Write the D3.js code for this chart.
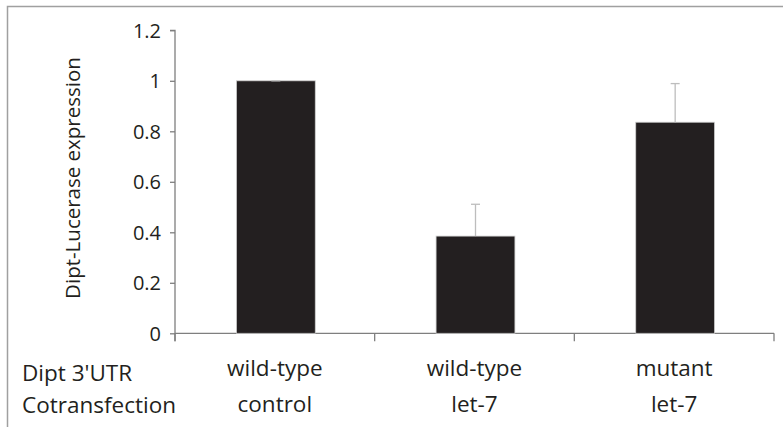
<!DOCTYPE html>
<html><head><meta charset="utf-8">
<script src="https://cdn.jsdelivr.net/npm/d3@7"></script>
<style>body{margin:0;background:#fff}svg{display:block}text{font-family:"Open Sans",Lato,sans-serif;fill:#231f20}</style>
</head><body><svg id="c" width="783" height="427"></svg>
<script>
const categories = ["wt-control","wt-let7","mut-let7"];
const utrLabels = ["wild-type","wild-type","mutant"];
const cotransLabels = ["control","let-7","let-7"];
const values = [1.0, 0.385, 0.836];
const errors = [0.0, 0.126, 0.153];
const yTicks = [0,0.2,0.4,0.6,0.8,1,1.2];
const yTickLabels = ["0","0.2","0.4","0.6","0.8","1","1.2"];

const svg = d3.select("#c");
const L = 175, R = 774, T = 30.3, B = 333.3;
const x = d3.scaleBand().domain(categories).range([L,R]).padding(0);
const y = d3.scaleLinear().domain([0,1.2]).range([B,T]);
const axisColor = "#7f7f7f";
const FONT = "'Open Sans', Lato, sans-serif";

// frame
svg.append("path").attr("d",`M7.5,427 V6.5 H783`).attr("fill","none").attr("stroke","#a0a0a0").attr("stroke-width",1.5);

// y axis
const ya = svg.append("g").attr("transform",`translate(${L},0)`)
  .call(d3.axisLeft(y).tickValues(yTicks).tickFormat((d,i)=>yTickLabels[i]).tickSize(5).tickPadding(9));
ya.select(".domain").attr("stroke",axisColor).attr("stroke-width",1.3).attr("d",`M-5,${T}H0V${B+8}`);
ya.selectAll(".tick line").attr("stroke",axisColor).attr("stroke-width",1.3);
ya.selectAll(".tick text").style("font-size","20px").style("font-family",FONT).attr("fill","#231f20").attr("dy","0.35em");

// x axis
const xa = svg.append("g").attr("transform",`translate(0,${B})`);
xa.append("line").attr("x1",L).attr("x2",R).attr("y1",0).attr("y2",0).attr("stroke",axisColor).attr("stroke-width",1.3);
const bounds = [L].concat(categories.map(c=>x(c)+x.bandwidth()));
xa.selectAll(".xt").data(bounds).join("line").attr("class","xt")
  .attr("x1",d=>d).attr("x2",d=>d).attr("y1",0).attr("y2",8).attr("stroke",axisColor).attr("stroke-width",1.3);

// bars
const bw = x.bandwidth()*0.395;
svg.selectAll(".bar").data(categories).join("rect").attr("class","bar")
  .attr("x",(d)=>x(d)+x.bandwidth()/2-bw/2+1)
  .attr("width",bw)
  .attr("y",(d,i)=>y(values[i]))
  .attr("height",(d,i)=>B-y(values[i]))
  .attr("fill","#231f20").attr("stroke","#d0d0d0").attr("stroke-width",0.8);

// error bars (upper only)
const eg = svg.selectAll(".err").data(categories).join("g").attr("class","err");
eg.append("line")
  .attr("x1",d=>x(d)+x.bandwidth()/2+1).attr("x2",d=>x(d)+x.bandwidth()/2+1)
  .attr("y1",(d,i)=>y(values[i])).attr("y2",(d,i)=>y(values[i]+errors[i]))
  .attr("stroke","#bdbdbd").attr("stroke-width",1.3);
eg.append("line")
  .attr("x1",d=>x(d)+x.bandwidth()/2+1-4.5).attr("x2",d=>x(d)+x.bandwidth()/2+1+4.5)
  .attr("y1",(d,i)=>y(values[i]+errors[i])).attr("y2",(d,i)=>y(values[i]+errors[i]))
  .attr("stroke","#bdbdbd").attr("stroke-width",1.3);

// category labels
svg.selectAll(".l1").data(categories).join("text").attr("class","l1")
  .attr("x",d=>x(d)+x.bandwidth()/2).attr("y",376).attr("text-anchor","middle")
  .style("font-size","22.5px").text((d,i)=>utrLabels[i]);
svg.selectAll(".l2").data(categories).join("text").attr("class","l2")
  .attr("x",d=>x(d)+x.bandwidth()/2).attr("y",412).attr("text-anchor","middle")
  .style("font-size","22.5px").text((d,i)=>cotransLabels[i]);

svg.append("text").attr("x",22).attr("y",381).style("font-size","22.5px").text("Dipt 3'UTR");
svg.append("text").attr("x",22).attr("y",413).style("font-size","22.5px").text("Cotransfection");

// y title
svg.append("text").attr("transform",`translate(80,178) rotate(-90)`).attr("text-anchor","middle")
  .style("font-size","20.5px").text("Dipt-Lucerase expression");
</script></body></html>
